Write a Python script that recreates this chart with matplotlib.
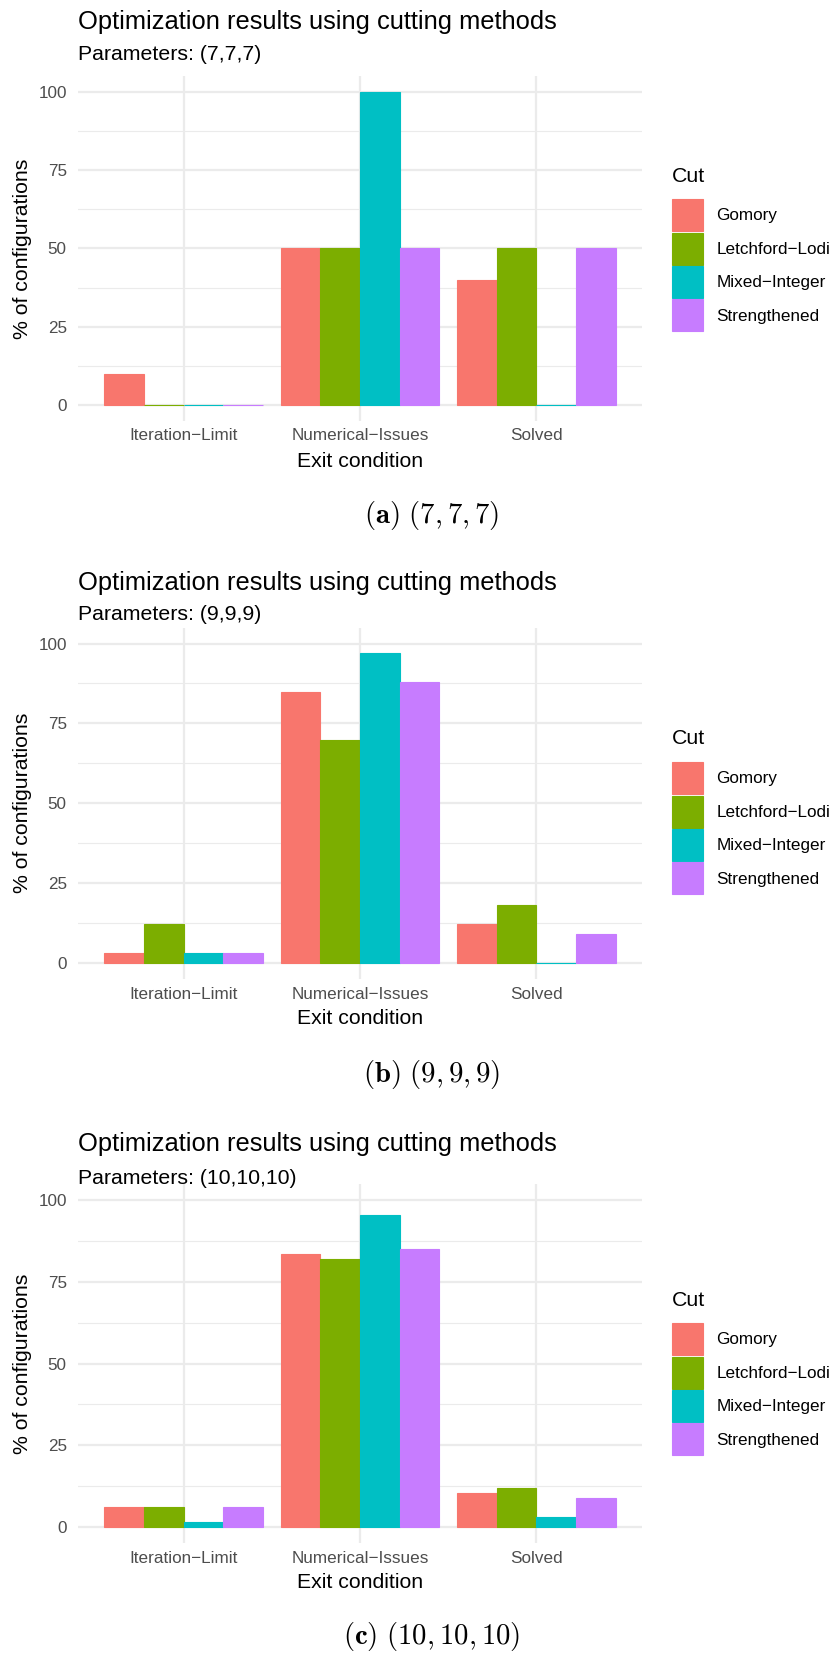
import matplotlib
matplotlib.use('Agg')
import matplotlib.pyplot as plt
import numpy as np
from matplotlib.legend_handler import HandlerPatch
from matplotlib.patches import Rectangle

plt.rcParams['font.family'] = 'Liberation Sans'
plt.rcParams['mathtext.fontset'] = 'cm'

exit_conditions = ['Iteration\u2212Limit', 'Numerical\u2212Issues', 'Solved']
cuts = ['Gomory', 'Letchford\u2212Lodi', 'Mixed\u2212Integer', 'Strengthened']
cut_colors = ['#F8766D', '#7CAE00', '#00BFC4', '#C77CFF']

# % of configurations per cut (rows) for each exit condition (columns)
params_a = '(7,7,7)'
pct_a = [[10, 50, 40],
         [0, 50, 50],
         [0, 100, 0],
         [0, 50, 50]]
caption_a = r'$\mathbf{(a)}\ (7,7,7)$'

params_b = '(9,9,9)'
pct_b = [[3.03, 84.85, 12.12],
         [12.12, 69.70, 18.18],
         [3.03, 96.97, 0],
         [3.03, 87.88, 9.09]]
caption_b = r'$\mathbf{(b)}\ (9,9,9)$'

params_c = '(10,10,10)'
pct_c = [[5.97, 83.58, 10.45],
         [5.97, 82.09, 11.94],
         [1.49, 95.52, 2.99],
         [5.97, 85.07, 8.96]]
caption_c = r'$\mathbf{(c)}\ (10,10,10)$'

W, H = 836, 1654
fig = plt.figure(figsize=(W / 100, H / 100), dpi=100)
fig.patch.set_facecolor('white')


def fx(px):
    return px / W


def fy(py):
    return 1 - py / H


def key_square(legend, orig_handle, xdescent, ydescent, width, height, fontsize):
    # fill the handle box, leaving a thin white gap between keys
    return Rectangle((-xdescent, -ydescent + 0.55), width, height - 1.1)


def draw_panel(pct, params, caption, y100, y0, title_y, sub_y, cut_y, cap_y):
    # pixel layout: y100 / y0 are the rows of the 100 and 0 gridlines
    unit = (y0 - y100) / 100
    top = y100 - 5 * unit
    bottom = y0 + 5 * unit
    left, right = 78, 642
    ax = fig.add_axes([fx(left), fy(bottom), (right - left) / W, (bottom - top) / H])

    x = np.arange(1, len(exit_conditions) + 1)
    width = 0.225
    bars = []
    for i, (cut, color) in enumerate(zip(cuts, cut_colors)):
        b = ax.bar(x + (i - 1.5) * width, pct[i], width, color=color,
                   edgecolor=color, linewidth=0.8, label=cut, zorder=3)
        bars.append(b.patches[0])

    ax.set_xlim(0.4, 3.6)
    ax.set_ylim(-5, 105)
    ax.set_xticks(x, exit_conditions)
    ax.set_yticks([0, 25, 50, 75, 100])
    ax.set_yticks([12.5, 37.5, 62.5, 87.5], minor=True)
    ax.grid(which='major', color='#EBEBEB', linewidth=1.6)
    ax.grid(which='minor', axis='y', color='#EBEBEB', linewidth=0.8)
    ax.set_axisbelow(True)
    for s in ax.spines.values():
        s.set_visible(False)
    ax.tick_params(which='both', length=0)
    ax.tick_params(axis='y', pad=8.1, labelsize=12.3, labelcolor='#4D4D4D')
    ax.tick_params(axis='x', pad=5.5, labelsize=12.3, labelcolor='#4D4D4D')

    ax.set_xlabel('Exit condition', fontsize=15.3, va='center')
    ax.xaxis.set_label_coords(0.5, -(y0 + 56 - bottom) / (bottom - top))
    ax.set_ylabel('% of configurations', fontsize=15.3, va='center')
    ax.yaxis.set_label_coords((22.5 - left) / (right - left), 0.5)

    fig.text(fx(78), fy(title_y), 'Optimization results using cutting methods',
             fontsize=18.4, ha='left', va='center')
    fig.text(fx(78), fy(sub_y), 'Parameters: ' + params,
             fontsize=15.3, ha='left', va='center')

    fig.text(fx(672), fy(cut_y), 'Cut', fontsize=15.3, ha='left', va='center')
    fig.legend(bars, cuts, loc='upper left',
               bbox_to_anchor=(fx(672), fy(cut_y + 22.5)),
               handler_map={Rectangle: HandlerPatch(patch_func=key_square)},
               frameon=False, fontsize=12.3,
               handlelength=1.84, handleheight=2.63, labelspacing=0,
               handletextpad=0.76, borderpad=0, borderaxespad=0)

    fig.text(fx(432), fy(cap_y), caption, fontsize=20.7, ha='center', va='center')
    return ax


draw_panel(pct_a, params_a, caption_a, 91.7, 405, 21.5, 55, 176, 515)
draw_panel(pct_b, params_b, caption_b, 643.5, 963, 583, 614, 739, 1074.5)
draw_panel(pct_c, params_c, caption_c, 1200, 1527, 1144.5, 1178, 1300, 1636)

fig.savefig('out.png', dpi=100)
